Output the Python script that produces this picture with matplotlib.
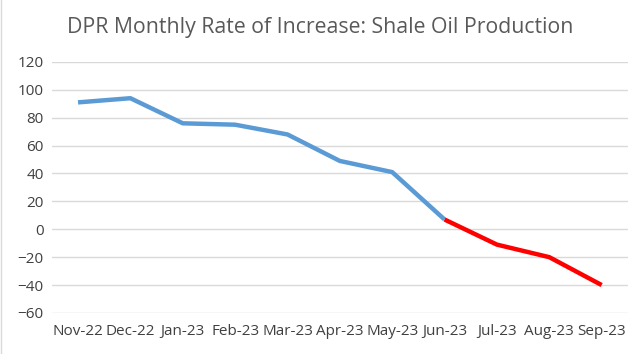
import matplotlib.pyplot as plt

months = ["Nov-22", "Dec-22", "Jan-23", "Feb-23", "Mar-23", "Apr-23",
          "May-23", "Jun-23", "Jul-23", "Aug-23", "Sep-23"]
actual = [91, 94, 76, 75, 68, 49, 41, 7]          # Nov-22 .. Jun-23
forecast = [7, -11, -20, -40]                     # Jun-23 .. Sep-23

plt.rcParams['font.family'] = ['Open Sans', 'DejaVu Sans']

fig = plt.figure(figsize=(6.4, 3.54), dpi=100)
ax = fig.add_axes([0.081, 0.116, 0.9, 0.709])

x_act = list(range(len(actual)))
x_fc = list(range(len(actual) - 1, len(months)))
ax.plot(x_act, actual, color="#5B9BD5", lw=3.2, solid_capstyle="butt", zorder=3)
ax.plot(x_fc, forecast, color="#FF0000", lw=3.2, solid_capstyle="butt", zorder=3)

ax.set_xlim(-0.5, len(months) - 0.5)
ax.set_ylim(-60, 120)
ax.set_yticks(range(-60, 121, 20))
ax.set_xticks(range(len(months)))
ax.set_xticklabels(months)
ax.yaxis.grid(True, color="#D9D9D9", lw=1)
ax.set_axisbelow(True)
for s in ax.spines.values():
    s.set_visible(False)
ax.tick_params(length=0, labelsize=11, colors="#404040", pad=6)
ax.tick_params(axis="x", pad=8)

fig.text(0.5, 0.922, "DPR Monthly Rate of Increase: Shale Oil Production",
         ha="center", va="center", fontsize=15.3, color="#595959")

# chart frame edge on the left
fig.add_artist(plt.Line2D([0.001, 0.001], [0, 1], color="#D9D9D9", lw=1))

fig.savefig("out.png", dpi=100)
